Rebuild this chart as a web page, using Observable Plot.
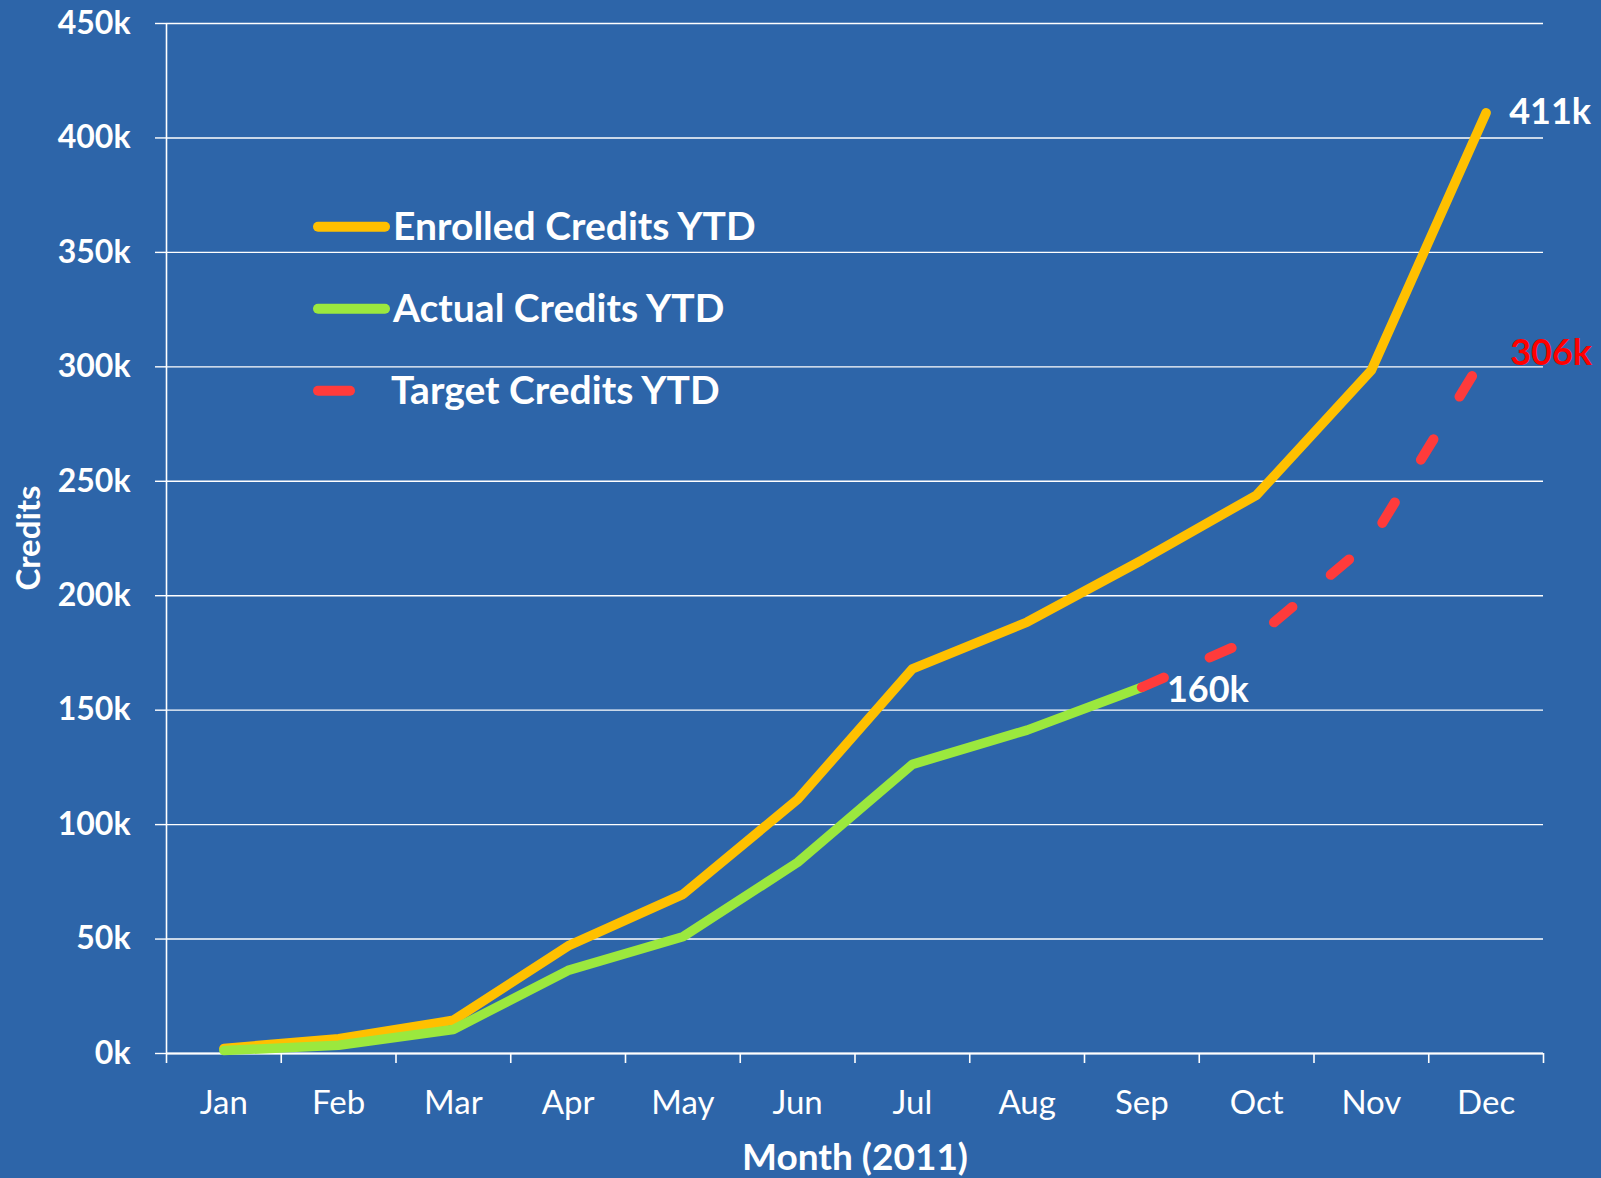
<!DOCTYPE html>
<html>
<head>
<meta charset="utf-8">
<script src="https://cdn.jsdelivr.net/npm/d3@7"></script>
<script src="https://cdn.jsdelivr.net/npm/@observablehq/plot@0.6"></script>
<style>
  html, body { margin: 0; padding: 0; background: #2D65A9; }
  #chart { width: 1601px; height: 1178px; overflow: hidden; }
  #chart svg { display: block; }
</style>
</head>
<body>
<div id="chart"></div>
<script>
// ---- data ----
const months = ["Jan","Feb","Mar","Apr","May","Jun","Jul","Aug","Sep","Oct","Nov","Dec"];
const enrolled = [2200, 6500, 14500, 47000, 69500, 111000, 168000, 188500, 215500, 244000, 298500, 411000];
const actual = [1300, 3600, 10500, 36300, 51000, 83500, 126300, 141300, 160000];
const targetMonths = ["Sep","Oct","Nov","Dec"];
const target = [160000, 182000, 224000, 306000];
const yTicks = [0, 50000, 100000, 150000, 200000, 250000, 300000, 350000, 400000, 450000];
const legendLabels = ["Enrolled Credits YTD", "Actual Credits YTD", "Target Credits YTD"];
const xTitle = "Month (2011)";
const yTitle = "Credits";

const colors = {bg: "#2D65A9", enrolled: "#FFC000", actual: "#9BE83E", target: "#FF3B3B", targetLabel: "#FF0000"};
const kfmt = v => `${Math.round(v / 1000)}k`;

const mi = m => months.indexOf(m) + 0.5;
const enrolledData = enrolled.map((v, i) => ({x: i + 0.5, y: v}));
const actualData = actual.map((v, i) => ({x: i + 0.5, y: v}));
const targetData = target.map((v, i) => ({x: mi(targetMonths[i]), y: v}));

const lastE = enrolledData[enrolledData.length - 1];
const lastA = actualData[actualData.length - 1];
const lastT = targetData[targetData.length - 1];

const plot = Plot.plot({
  width: 1601,
  height: 1178,
  marginLeft: 166,
  marginRight: 58,
  marginTop: 23,
  marginBottom: 125,
  style: {background: colors.bg, color: "white", fontFamily: "Lato, sans-serif", overflow: "visible"},
  x: {type: "linear", domain: [0, 12], axis: null},
  y: {domain: [0, 450000], axis: null},
  marks: [
    Plot.ruleY(yTicks, {stroke: "white", strokeWidth: 1.4}),
    Plot.axisY(yTicks, {anchor: "left", tickSize: 11, tickPadding: 25, tickFormat: kfmt, fontSize: 32, fontWeight: "bold", strokeWidth: 1.4, label: null}),
    Plot.axisX(d3.range(13), {anchor: "bottom", tickSize: 10, tickFormat: () => "", strokeWidth: 1.6, label: null}),
    Plot.axisX(months.map((m, i) => i + 0.5), {anchor: "bottom", tickSize: 0, tickPadding: 37, tickFormat: d => months[Math.floor(d)], fontSize: 33, label: null}),
    Plot.ruleX([0], {stroke: "white", strokeWidth: 1.6}),
    Plot.ruleY([0], {stroke: "white", strokeWidth: 2}),
    Plot.line(enrolledData, {x: "x", y: "y", stroke: colors.enrolled, strokeWidth: 9.5, strokeLinecap: "round", strokeLinejoin: "round"}),
    Plot.line(actualData, {x: "x", y: "y", stroke: colors.actual, strokeWidth: 9.5, strokeLinecap: "round", strokeLinejoin: "round"}),
    Plot.line(targetData, {x: "x", y: "y", stroke: colors.target, strokeWidth: 10, strokeLinecap: "round", strokeLinejoin: "round", strokeDasharray: "24,50"}),
    Plot.text([lastE], {x: "x", y: "y", text: d => kfmt(d.y), textAnchor: "start", dx: 23, lineAnchor: "middle", fontSize: 36, fontWeight: "bold", fill: "white"}),
    Plot.text([lastT], {x: "x", y: "y", text: d => kfmt(d.y), textAnchor: "start", dx: 24, lineAnchor: "middle", fontSize: 36, fontWeight: "bold", fill: colors.targetLabel}),
    Plot.text([lastA], {x: "x", y: "y", text: d => kfmt(d.y), textAnchor: "start", dx: 25, dy: 15, lineAnchor: "bottom", fontSize: 36, fontWeight: "bold", fill: "white"}),
    Plot.text([xTitle], {frameAnchor: "bottom", dy: 116, lineAnchor: "bottom", fontSize: 37, fontWeight: "bold", fill: "white"})
  ]
});

const svg = d3.select(plot);

// y-axis title (rotated)
svg.append("text")
  .attr("transform", "translate(40,538) rotate(-90)")
  .attr("text-anchor", "middle")
  .attr("font-family", "Lato, sans-serif")
  .attr("font-weight", "bold")
  .attr("font-size", 33)
  .attr("fill", "white")
  .text(yTitle);

// legend inside the plot area
const lg = svg.append("g")
  .attr("font-family", "Lato, sans-serif")
  .attr("font-weight", "bold")
  .attr("font-size", 39)
  .attr("fill", "white")
  .attr("text-anchor", "start");
const legendColors = [colors.enrolled, colors.actual, colors.target];
legendLabels.forEach((label, i) => {
  const cy = 226.7 + i * 82;
  const dashed = i === 2;
  lg.append("line")
    .attr("x1", 318).attr("x2", dashed ? 350 : 385)
    .attr("y1", cy).attr("y2", cy)
    .attr("stroke", legendColors[i]).attr("stroke-width", 10).attr("stroke-linecap", "round");
  lg.append("text").attr("x", dashed ? 391 : 393).attr("y", cy + 13).text(label);
});

document.getElementById("chart").appendChild(plot);
</script>
</body>
</html>
